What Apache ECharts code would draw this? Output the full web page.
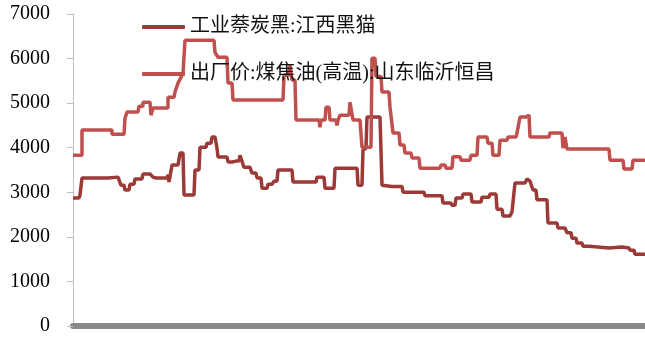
<!DOCTYPE html>
<html><head><meta charset="utf-8">
<script src="https://cdn.jsdelivr.net/npm/echarts@6/dist/echarts.min.js"></script>
<style>html,body{margin:0;padding:0;background:#fff}#c{width:645px;height:340px}</style>
</head><body><div id="c"></div>
<script>
// series names
var seriesNames = ['工业萘炭黑:江西黑猫', '出厂价:煤焦油(高温):山东临沂恒昌'];
// y ticks
var yTicks = [0, 1000, 2000, 3000, 4000, 5000, 6000, 7000];
// time index (weeks-ish) and values, series 1 (carbon black)
var s1X = [0,6,7,8,9,35,36,45,48,51,52,56,57,61,62,69,70,77,80,83,94,95,96,98,99,105,107,110,111,121,122,126,127,133,134,138,139,142,144,145,154,155,159,163,166,167,169,171,177,179,183,184,188,189,194,195,199,201,204,205,219,220,243,244,251,252,261,262,284,285,289,290,293,294,307,309,319,329,330,351,352,369,370,378,379,382,383,389,390,398,399,408,409,416,417,423,424,429,430,437,439,441,442,452,454,457,460,463,464,474,475,484,485,492,494,498,499,503,504,509,510,516,517,536,537,549,550,556,557,561,562,572];
var s1Y = [2870,2870,2940,2940,3320,3320,3340,3340,3160,3160,3050,3050,3180,3180,3300,3300,3410,3410,3340,3320,3320,3390,3230,3230,3610,3610,3880,3880,2940,2940,3500,3500,4010,4010,4100,4100,4240,4240,3990,3790,3790,3680,3680,3700,3700,3830,3830,3560,3560,3430,3430,3320,3320,3090,3090,3180,3180,3250,3250,3500,3500,3230,3230,3340,3340,3090,3090,3540,3540,3160,3160,3950,3990,4690,4690,3160,3130,3130,3000,3000,2920,2920,2760,2760,2710,2710,2870,2870,2960,2960,2780,2780,2890,2890,2960,2960,2620,2620,2470,2470,2560,2560,3210,3210,3300,3250,3050,3050,2830,2830,2310,2310,2200,2200,2090,2090,1970,1970,1860,1860,1790,1790,1750,1750,1770,1770,1750,1750,1700,1700,1610,1610];
// series 2 (coal tar)
var s2X = [0,9,9,39,39,51,52,54,54,65,66,70,70,77,78,80,80,95,95,101,102,104,105,107,108,110,110,112,112,141,142,144,145,154,155,159,160,210,211,216,217,219,222,223,246,247,248,252,253,256,257,263,264,265,267,276,277,279,280,287,289,298,299,302,303,308,309,316,317,319,320,326,327,331,332,338,339,346,347,367,368,372,373,379,380,387,388,397,398,404,405,414,415,419,420,426,427,434,435,443,444,446,447,453,454,456,457,476,477,489,490,492,494,536,537,550,551,559,560,572];
var s2Y = [3830,3830,4400,4400,4300,4300,4660,4660,4800,4800,4930,4930,5020,5020,4730,4730,4890,4890,5130,5130,5250,5250,5450,5450,5580,5580,5670,5670,6410,6410,6140,6140,6030,6030,5450,5450,5070,5070,5630,5630,5850,5520,5520,4620,4620,4460,4620,4620,4910,4910,4620,4620,4500,4620,4730,4730,5020,5020,4620,4620,4010,4010,6010,6010,5600,5600,5250,5250,4910,4910,4330,4330,4060,4060,3880,3880,3770,3770,3540,3540,3610,3610,3540,3540,3800,3800,3720,3720,3830,3830,4240,4240,4100,4100,3830,3830,4170,4170,4240,4240,4330,4330,4690,4690,4730,4730,4240,4240,4330,4330,3990,4240,3970,3970,3720,3720,3520,3520,3720,3720];

function pairs(xs, ys){ return xs.map(function(x,i){ return [x, ys[i]]; }); }

var chart = echarts.init(document.getElementById('c'), null, {renderer:'canvas'});
chart.setOption({
  animation: false,
  backgroundColor: '#fff',
  grid: {left: 73, right: 0, top: 14, bottom: 14, containLabel: false},
  legend: {
    orient: 'vertical', left: 137, top: 12, itemGap: 27,
    itemWidth: 43, itemHeight: 4, icon: 'roundRect',
    textStyle: {fontFamily: '"Liberation Serif","Noto Sans CJK SC"', fontSize: 20, color: '#111', lineHeight: 20},
    data: seriesNames
  },
  xAxis: {
    type: 'value', min: 0, max: 572, offset: 3,
    axisLine: {show: true, lineStyle: {color: '#888', width: 6}},
    axisTick: {show: false}, axisLabel: {show: false}, splitLine: {show: false}
  },
  yAxis: {
    type: 'value', min: yTicks[0], max: yTicks[yTicks.length-1], interval: 1000,
    axisLine: {show: true, lineStyle: {color: '#bfbfbf', width: 1}},
    axisTick: {show: true, length: 6, lineStyle: {color: '#bfbfbf'}},
    axisLabel: {fontFamily: '"Liberation Serif"', fontSize: 20, color: '#000', margin: 23,
      formatter: function(v){ return String(v); }},
    splitLine: {show: false}
  },
  series: [
    {name: seriesNames[0], type: 'line', data: pairs(s1X, s1Y), showSymbol: false, symbol: 'none',
     lineStyle: {color: '#9B3A37', width: 3.5}, itemStyle: {color: '#9B3A37'}},
    {name: seriesNames[1], type: 'line', data: pairs(s2X, s2Y), showSymbol: false, symbol: 'none',
     lineStyle: {color: '#C0504D', width: 3.5}, itemStyle: {color: '#C0504D'}}
  ]
});
</script></body></html>
